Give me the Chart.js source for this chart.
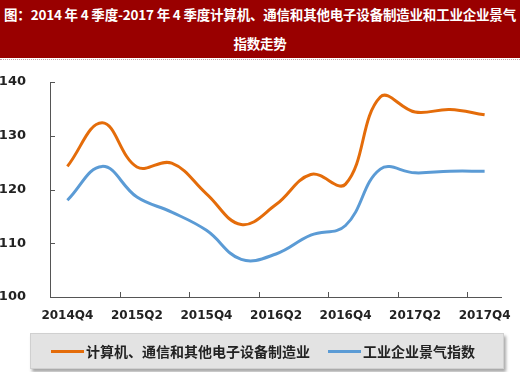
<!DOCTYPE html>
<html><head><meta charset="utf-8">
<script src="https://cdn.jsdelivr.net/npm/chart.js@4"></script>
<style>
html,body{margin:0;padding:0;background:#fff;width:520px;height:372px;overflow:hidden;}
#wrap{position:relative;width:520px;height:372px;}
#title{position:absolute;left:0;top:0;width:520px;height:58px;background:#990000;color:#fff;white-space:nowrap;
 font-family:"Noto Sans CJK SC","DejaVu Serif",serif;font-weight:bold;font-size:13.5px;text-align:center;line-height:29px;letter-spacing:-0.2px;}
#sep{position:absolute;left:0;top:59px;width:520px;border-top:1px dotted #c9a0a8;}
canvas{position:absolute;left:0;top:0;}
#legend{position:absolute;left:30px;top:333px;width:472px;height:34px;background:#e3e3e3;border:1px solid #d0d0d0;
 box-shadow:2px 3px 3px rgba(0,0,0,0.35);display:flex;align-items:center;
 font-family:"Noto Sans CJK SC",sans-serif;font-weight:bold;font-size:14px;color:#222;}
.item{display:flex;align-items:center;position:absolute;top:0;height:34px;}
.sw{display:inline-block;width:33px;height:3px;margin-right:2px;}
</style></head>
<body><div id="wrap">
<div id="title">图：2014 年 4 季度-2017 年 4 季度计算机、通信和其他电子设备制造业和工业企业景气<br>指数走势</div>
<div id="sep"></div>
<canvas id="c" width="520" height="372"></canvas>
<div id="legend"></div>
</div>
<script>
const categories = ["2014Q4","2015Q1","2015Q2","2015Q3","2015Q4","2016Q1","2016Q2","2016Q3","2016Q4","2017Q1","2017Q2","2017Q3","2017Q4"];
const seriesNames = ["计算机、通信和其他电子设备制造业","工业企业景气指数"];
const electronics = [124.3,132.4,124.2,124.9,119.2,113.5,117.2,122.8,121.0,137.2,134.4,134.9,133.9];
const industry = [118.0,124.3,118.6,115.8,112.4,107.0,108.0,111.5,113.3,123.8,123.1,123.4,123.4];
const yTicks = [100,110,120,130,140];
const colors = ["#E46C0A","#5B9BD5"];

const lg = document.getElementById('legend');
const legendX = [20, 297];
seriesNames.forEach((n,i)=>{
  const d=document.createElement('div');d.className='item';d.style.left=legendX[i]+'px';
  d.innerHTML='<span class="sw" style="background:'+colors[i]+'"></span><span>'+n+'</span>';
  lg.appendChild(d);
});

const insideTicks = {
  id:'insideTicks',
  afterDraw(chart){
    const ctx=chart.ctx, x=chart.scales.x, y=chart.scales.y, a=chart.chartArea;
    ctx.save();ctx.strokeStyle='#555';ctx.lineWidth=1;
    ctx.beginPath();
    ctx.moveTo(a.left+0.5,a.top);ctx.lineTo(a.left+0.5,a.bottom+0.5);ctx.lineTo(a.right,a.bottom+0.5);
    yTicks.forEach(v=>{const p=Math.round(y.getPixelForValue(v))+0.5;ctx.moveTo(a.left,p);ctx.lineTo(a.left+5,p);});
    const w=(x.getPixelForValue(1)-x.getPixelForValue(0));
    for(let i=0;i<categories.length;i+=2){const p=Math.round(x.getPixelForValue(i)-w/2)+0.5;ctx.moveTo(p,a.bottom);ctx.lineTo(p,a.bottom-5);}
    ctx.stroke();ctx.restore();
  }
};

new Chart(document.getElementById('c'),{
  type:'line',
  data:{labels:categories,datasets:[
    {label:seriesNames[0],data:electronics,borderColor:colors[0],borderWidth:3,pointRadius:0,tension:0.4,fill:false},
    {label:seriesNames[1],data:industry,borderColor:colors[1],borderWidth:3,pointRadius:0,tension:0.4,fill:false}
  ]},
  options:{
    responsive:false,animation:false,devicePixelRatio:1,
    layout:{padding:{top:82,right:18,bottom:50,left:0}},
    plugins:{legend:{display:false},tooltip:{enabled:false}},
    scales:{
      x:{offset:true,grid:{display:false},border:{display:false},
        afterFit(s){s.height=25;},
        ticks:{autoSkip:false,maxRotation:0,padding:4,color:'#222',font:{family:'"DejaVu Sans",sans-serif',weight:'bold',size:12},
          callback:(v,i)=>i%2===0?categories[i]:''}},
      y:{min:100,max:140,grid:{display:false},border:{display:false},
        afterFit(s){s.width=50;},
        afterBuildTicks(s){s.ticks=yTicks.map(v=>({value:v}));},
        ticks:{padding:16,color:'#222',font:{family:'"DejaVu Sans",sans-serif',weight:'bold',size:13}}}
    }
  },
  plugins:[insideTicks]
});
</script>
</body></html>
